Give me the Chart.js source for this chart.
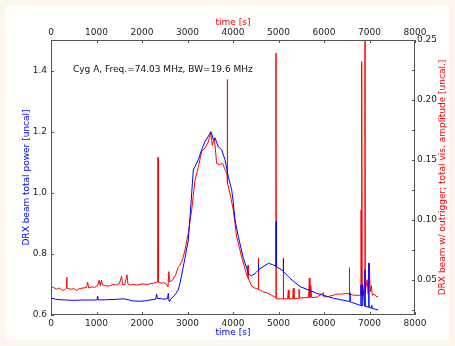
<!DOCTYPE html>
<html lang="en">
<head>
  <meta charset="UTF-8">
  <title>Cyg A DRX beam</title>
  <script src="https://cdn.jsdelivr.net/npm/chart.js"></script>
  <style>
    * {
      box-sizing: border-box;
      margin: 0;
      padding: 0;
    }

    body {
      width: 455px;
      height: 346px;
      background: #fdf6ec;
      position: relative;
      overflow: hidden;
    }

    .figure {
      position: absolute;
      left: 6px;
      top: 6px;
      width: 443px;
      height: 334px;
      background: #fff;
    }

    #chart {
      position: absolute;
      left: 0;
      top: 0;
    }
  </style>
</head>
<body>
  <div class="figure"></div>
  <canvas id="chart" width="455" height="346"></canvas>

  <script>
    // tick labels
    const xTicks = [0, 1000, 2000, 3000, 4000, 5000, 6000, 7000, 8000];
    const leftTicks = [0.6, 0.8, 1.0, 1.2, 1.4];
    const rightTicks = [0.05, 0.10, 0.15, 0.20, 0.25];
    const rightTickMarks = [0.025, 0.05, 0.075, 0.10, 0.125, 0.15, 0.175, 0.20, 0.225, 0.25];

    // DRX beam total power (left axis)
    const powerTime = [0, 100, 200, 345, 500, 700, 900, 1010, 1025, 1040, 1200, 1400, 1590, 1700, 1800, 1956,
      2100, 2175, 2300, 2322, 2340, 2400, 2461, 2560, 2578, 2595, 2615, 2725, 2798, 2835, 2945, 3018, 3060,
      3128, 3165, 3238, 3311, 3385, 3458, 3516, 3568, 3604, 3678, 3751, 3824, 3897, 3971, 4007, 4044, 4117,
      4227, 4337, 4400, 4480, 4520, 4550, 4557, 4564, 4660, 4777, 4870, 4945, 4950, 4955, 5100, 5106, 5112,
      5253, 5473, 5692, 5840, 6205, 6565, 6571, 6577, 6808, 6813, 6818, 6845, 6850, 6896, 6901, 6906, 6980,
      6985, 6990, 7045, 7050, 7055, 7100, 7194];
    const powerValue = [0.655, 0.652, 0.650, 0.649, 0.648, 0.649, 0.649, 0.649, 0.662, 0.649, 0.650, 0.651,
      0.653, 0.650, 0.646, 0.645, 0.647, 0.649, 0.652, 0.668, 0.654, 0.654, 0.652, 0.653, 0.671, 0.645, 0.649,
      0.666, 0.682, 0.704, 0.786, 0.846, 0.930, 1.075, 1.086, 1.108, 1.141, 1.168, 1.185, 1.200, 1.174, 1.180,
      1.150, 1.141, 1.108, 1.053, 1.010, 0.967, 0.911, 0.857, 0.786, 0.737, 0.728, 0.735, 0.742, 0.745, 0.770,
      0.748, 0.758, 0.769, 0.765, 0.760, 0.906, 0.758, 0.745, 0.784, 0.742, 0.720, 0.693, 0.680, 0.671, 0.655,
      0.644, 0.673, 0.643, 0.631, 0.698, 0.630, 0.630, 0.700, 0.629, 0.748, 0.628, 0.626, 0.770, 0.625, 0.623,
      0.632, 0.622, 0.620, 0.616];

    // outrigger total visibility amplitude (right axis)
    const visTime = [0, 60, 120, 180, 250, 300, 340, 345, 350, 420, 500, 560, 620, 700, 780, 805, 830, 900,
      960, 1020, 1060, 1080, 1110, 1130, 1200, 1280, 1350, 1443, 1500, 1553, 1570, 1620, 1670, 1690, 1750,
      1800, 1900, 2000, 2100, 2175, 2250, 2345, 2352, 2360, 2420, 2480, 2540, 2570, 2590, 2610, 2680, 2740,
      2790, 2835, 2900, 2945, 3018, 3092, 3165, 3238, 3311, 3385, 3458, 3509, 3546, 3590, 3641, 3700, 3773,
      3824, 3870, 3875, 3880, 3949, 4007, 4080, 4190, 4300, 4325, 4330, 4335, 4410, 4480, 4550, 4557, 4564,
      4650, 4750, 4850, 4940, 4945, 4950, 5050, 5100, 5106, 5112, 5200, 5216, 5230, 5310, 5326, 5340, 5430,
      5450, 5470, 5560, 5660, 5678, 5690, 5710, 5730, 5850, 5985, 6000, 6100, 6200, 6300, 6400, 6500, 6550,
      6557, 6564, 6650, 6750, 6810, 6815, 6820, 6830, 6835, 6840, 6896, 6901, 6906, 6950, 6970, 6996, 7015,
      7040, 7060, 7100, 7150, 7187];
    const visValue = [0.0440, 0.0435, 0.0420, 0.0430, 0.0410, 0.0415, 0.0430, 0.0520, 0.0430, 0.0420, 0.0425,
      0.0410, 0.0425, 0.0430, 0.0435, 0.0480, 0.0430, 0.0440, 0.0435, 0.0450, 0.0495, 0.0450, 0.0497, 0.0455,
      0.0450, 0.0445, 0.0460, 0.0455, 0.0465, 0.0530, 0.0460, 0.0460, 0.0540, 0.0465, 0.0455, 0.0460, 0.0455,
      0.0465, 0.0460, 0.0465, 0.0470, 0.0480, 0.1520, 0.0480, 0.0470, 0.0475, 0.0460, 0.0440, 0.0567, 0.0480,
      0.0500, 0.0540, 0.0600, 0.0620, 0.0680, 0.0748, 0.0890, 0.1080, 0.1330, 0.1440, 0.1570, 0.1600, 0.1650,
      0.1730, 0.1620, 0.1680, 0.1470, 0.1460, 0.1470, 0.1420, 0.1380, 0.2170, 0.1310, 0.1190, 0.1080, 0.0860,
      0.0690, 0.0540, 0.0520, 0.0620, 0.0510, 0.0447, 0.0430, 0.0420, 0.0680, 0.0420, 0.0400, 0.0390, 0.0370,
      0.0350, 0.2390, 0.0340, 0.0340, 0.0340, 0.0680, 0.0340, 0.0340, 0.0414, 0.0340, 0.0340, 0.0430, 0.0340,
      0.0345, 0.0420, 0.0345, 0.0350, 0.0350, 0.0514, 0.0350, 0.0450, 0.0350, 0.0355, 0.0390, 0.0355, 0.0360,
      0.0370, 0.0380, 0.0380, 0.0385, 0.0380, 0.0600, 0.0380, 0.0370, 0.0370, 0.0370, 0.1080, 0.0380, 0.0370,
      0.2320, 0.0370, 0.0380, 0.2700, 0.0400, 0.0500, 0.0380, 0.0640, 0.0400, 0.0450, 0.0370, 0.0380, 0.0360,
      0.0358];

    const toPoints = (xs, ys) => xs.map((x, i) => ({ x: x, y: ys[i] }));

    Chart.defaults.font.family = "'DejaVu Sans', sans-serif";
    Chart.defaults.font.size = 9;
    Chart.defaults.color = '#222';

    // matplotlib style frame: spines, inward ticks, annotation, right label
    const framePlugin = {
      id: 'frame',
      afterDraw(chart) {
        const ctx = chart.ctx;
        const a = chart.chartArea;
        const s = chart.scales;
        const tl = 3;
        ctx.save();
        ctx.strokeStyle = '#555';
        ctx.lineWidth = 1;
        ctx.strokeRect(a.left + 0.5, a.top + 0.5, a.right - a.left - 1, a.bottom - a.top - 1);
        ctx.beginPath();
        xTicks.forEach(v => {
          const px = Math.round(s.x.getPixelForValue(v)) + 0.5;
          ctx.moveTo(px, a.bottom); ctx.lineTo(px, a.bottom - tl);
          const pt = Math.round(s.x2.getPixelForValue(v)) + 0.5;
          ctx.moveTo(pt, a.top); ctx.lineTo(pt, a.top + tl);
        });
        leftTicks.forEach(v => {
          const py = Math.round(s.y.getPixelForValue(v)) + 0.5;
          ctx.moveTo(a.left, py); ctx.lineTo(a.left + tl, py);
        });
        rightTickMarks.forEach(v => {
          const py = Math.round(s.y2.getPixelForValue(v)) + 0.5;
          ctx.moveTo(a.right, py); ctx.lineTo(a.right - tl, py);
        });
        ctx.stroke();

        ctx.fillStyle = '#111';
        ctx.font = "9px 'DejaVu Sans', sans-serif";
        ctx.textAlign = 'left';
        ctx.textBaseline = 'middle';
        ctx.fillText('Cyg A, Freq.=74.03 MHz, BW=19.6 MHz', 73, 70);

        ctx.fillStyle = 'red';
        ctx.translate(443, (a.top + a.bottom) / 2);
        ctx.rotate(-Math.PI / 2);
        ctx.textAlign = 'center';
        ctx.fillText('DRX beam w/ outrigger; total vis. amplitude [uncal.]', 0, 0);
        ctx.restore();
      }
    };

    new Chart(document.getElementById('chart'), {
      type: 'line',
      data: {
        datasets: [{
          label: 'total power',
          data: toPoints(powerTime, powerValue),
          borderColor: 'blue',
          borderWidth: 1,
          pointRadius: 0,
          tension: 0,
          xAxisID: 'x',
          yAxisID: 'y'
        }, {
          label: 'vis. amplitude',
          data: toPoints(visTime, visValue),
          borderColor: 'red',
          borderWidth: 1,
          pointRadius: 0,
          tension: 0,
          xAxisID: 'x',
          yAxisID: 'y2'
        }]
      },
      options: {
        responsive: false,
        animation: false,
        layout: { padding: 0 },
        plugins: {
          legend: { display: false },
          tooltip: { enabled: false }
        },
        scales: {
          x: {
            type: 'linear',
            position: 'bottom',
            min: 0,
            max: 8000,
            grid: { display: false, drawTicks: false },
            border: { display: false },
            afterBuildTicks: sc => { sc.ticks = xTicks.map(v => ({ value: v })); },
            afterFit: sc => { sc.height = 31; },
            ticks: { padding: 3, maxRotation: 0, callback: v => String(v) },
            title: { display: true, text: 'time [s]', color: 'blue', padding: { top: 0, bottom: 8 } }
          },
          x2: {
            type: 'linear',
            position: 'top',
            min: 0,
            max: 8000,
            grid: { display: false, drawTicks: false },
            border: { display: false },
            afterBuildTicks: sc => { sc.ticks = xTicks.map(v => ({ value: v })); },
            afterFit: sc => { sc.height = 40; },
            ticks: { padding: 2, maxRotation: 0, callback: v => String(v) },
            title: { display: true, text: 'time [s]', color: 'red', padding: { top: 17, bottom: 0 } }
          },
          y: {
            type: 'linear',
            position: 'left',
            min: 0.6,
            max: 1.5,
            grid: { display: false, drawTicks: false },
            border: { display: false },
            afterBuildTicks: sc => { sc.ticks = leftTicks.map(v => ({ value: v })); },
            afterFit: sc => { sc.width = 51; },
            ticks: { padding: 4, callback: v => v.toFixed(1) },
            title: { display: true, text: 'DRX beam total power [uncal]', color: 'blue', padding: { top: 21, bottom: 0 } }
          },
          y2: {
            type: 'linear',
            position: 'right',
            min: 0.0205,
            max: 0.25,
            grid: { display: false, drawTicks: false },
            border: { display: false },
            afterBuildTicks: sc => { sc.ticks = rightTicks.map(v => ({ value: v })); },
            afterFit: sc => { sc.width = 40; },
            ticks: { padding: 2, callback: v => v.toFixed(2) }
          }
        }
      },
      plugins: [framePlugin]
    });
  </script>
</body>
</html>
